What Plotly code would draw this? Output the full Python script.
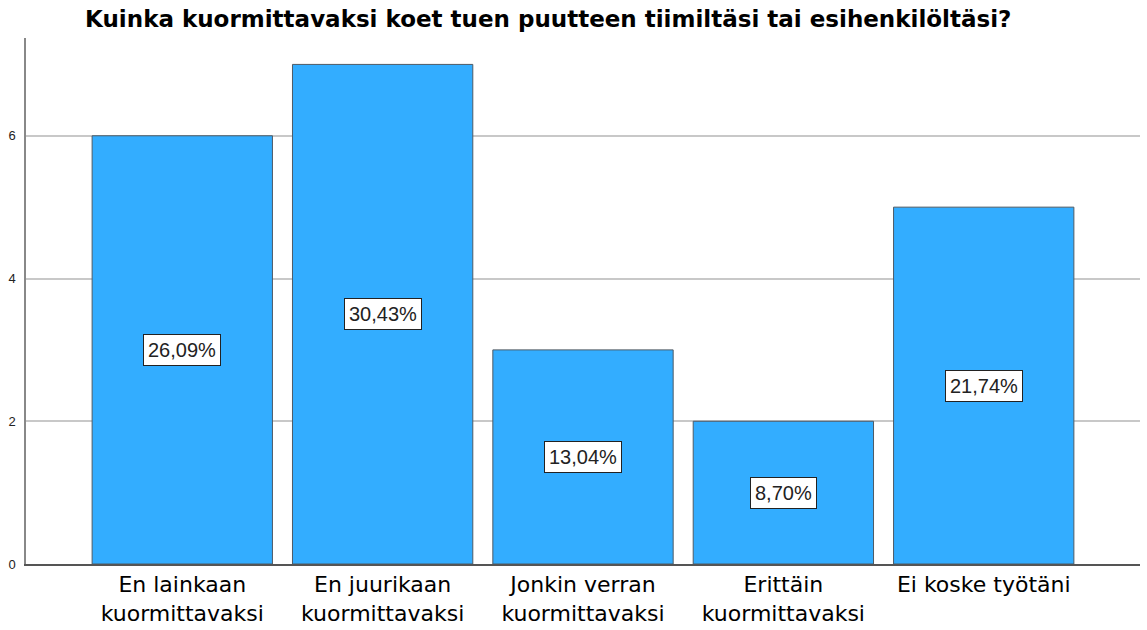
import plotly.graph_objects as go

categories = ["En lainkaan<br>kuormittavaksi", "En juurikaan<br>kuormittavaksi",
              "Jonkin verran<br>kuormittavaksi", "Erittäin<br>kuormittavaksi",
              "Ei koske työtäni"]
counts = [6, 7, 3, 2, 5]
percent_labels = ["26,09%", "30,43%", "13,04%", "8,70%", "21,74%"]
y_ticks = [0, 2, 4, 6]
title_text = "Kuinka kuormittavaksi koet tuen puutteen tiimiltäsi tai esihenkilöltäsi?"

x_idx = list(range(len(categories)))

fig = go.Figure()
fig.add_trace(go.Bar(
    x=x_idx, y=counts, width=0.9,
    marker=dict(color="#33adff", line=dict(color="#4d5a66", width=1)),
    hoverinfo="skip",
))

for i, (v, lab) in enumerate(zip(counts, percent_labels)):
    fig.add_annotation(
        x=i, y=v / 2, text=lab, showarrow=False,
        font=dict(family="Liberation Sans, Arial, sans-serif", size=20, color="#222222"),
        bgcolor="white", bordercolor="#222222", borderwidth=1, borderpad=4,
    )

fig.update_layout(
    width=1147, height=630,
    margin=dict(l=26, r=7, t=38, b=66, autoexpand=False),
    paper_bgcolor="white", plot_bgcolor="white",
    showlegend=False,
    title=dict(
        text="<b>" + title_text + "</b>",
        xref="container", x=0.478, xanchor="center",
        yref="container", y=0.982, yanchor="top",
        font=dict(family="DejaVu Sans, sans-serif", size=23, color="black"),
        automargin=False,
    ),
    xaxis=dict(
        range=[-0.78, 4.78], tickmode="array", tickvals=x_idx, ticktext=categories,
        showline=True, linecolor="#555555", linewidth=1.5, ticks="",
        showgrid=False, zeroline=False, automargin=False,
        tickfont=dict(family="DejaVu Sans, sans-serif", size=22, color="black"),
    ),
    yaxis=dict(
        range=[0, 7.37], tickmode="array", tickvals=y_ticks,
        ticktext=[str(t) for t in y_ticks],
        showline=True, linecolor="#888888", linewidth=1.5, ticks="",
        showgrid=True, gridcolor="#c8c8c8", gridwidth=1.5, zeroline=False,
        automargin=False,
        tickfont=dict(family="Liberation Sans, Arial, sans-serif", size=13, color="#222222"),
        ticklabelstandoff=6,
    ),
)

fig.write_html(
    "out.html",
    config={"displayModeBar": False},
    post_script="document.body.style.margin='0';document.body.style.overflow='hidden';",
)
